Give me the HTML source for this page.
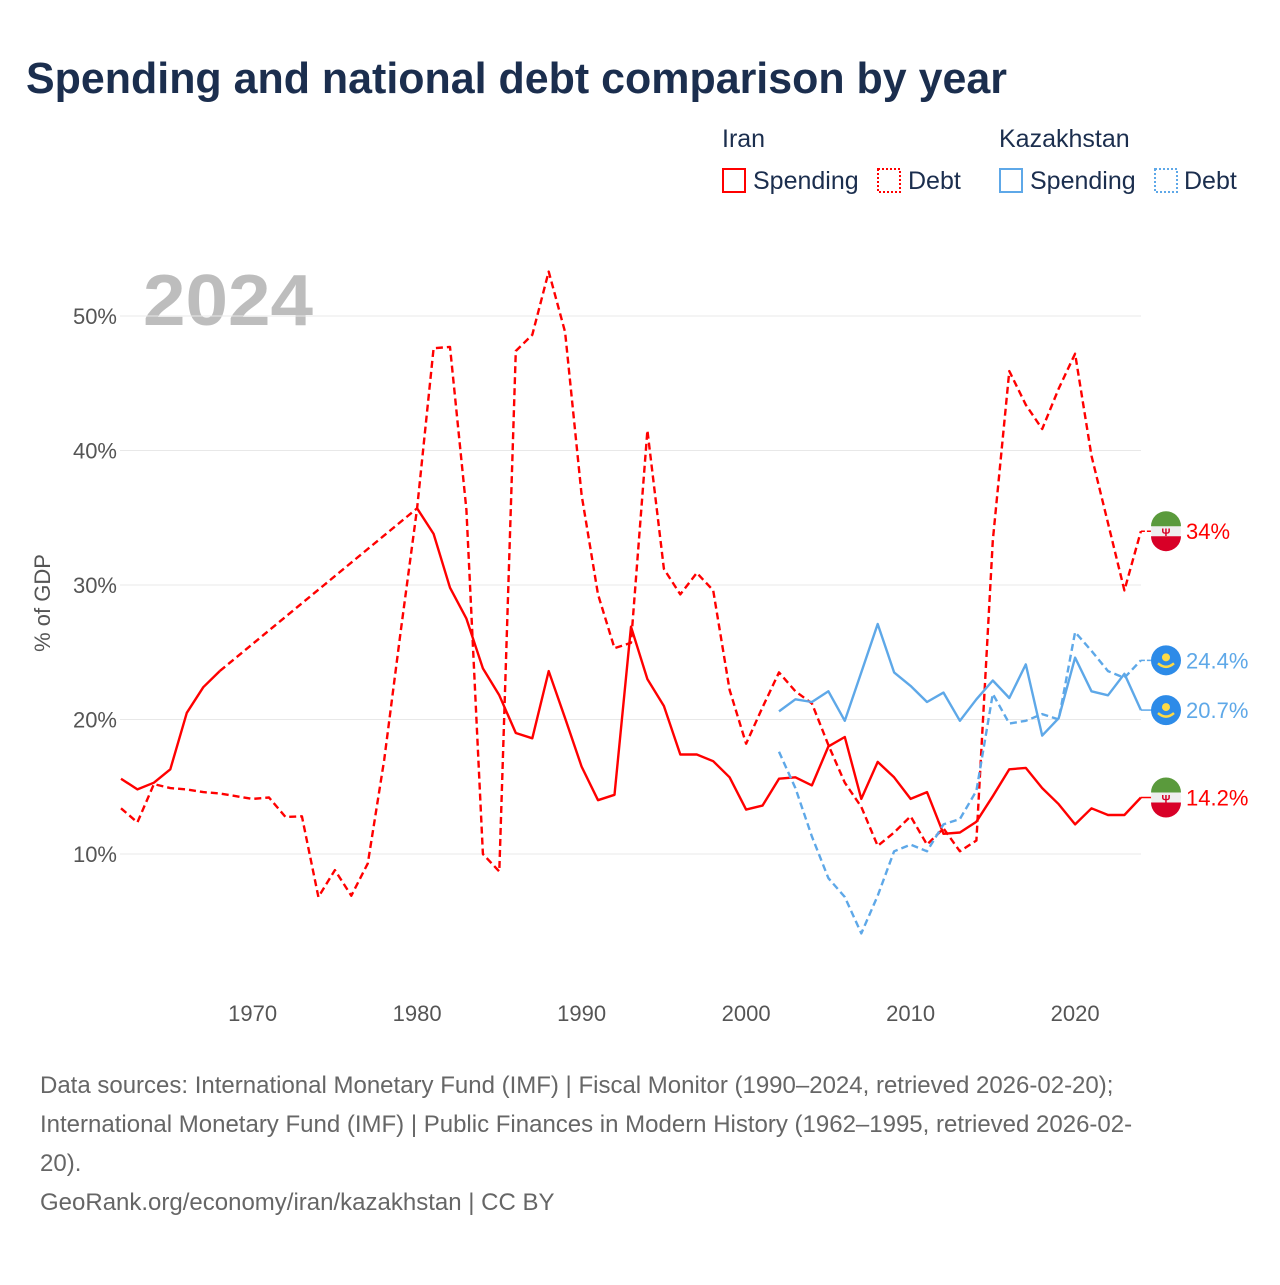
<!DOCTYPE html>
<html><head><meta charset="utf-8">
<style>
html,body{margin:0;padding:0;background:#fff;}
body{width:1280px;height:1280px;overflow:hidden;font-family:"Liberation Sans",sans-serif;}
</style></head>
<body>
<svg id="chart" width="1280" height="1280" viewBox="0 0 1280 1280" xmlns="http://www.w3.org/2000/svg">
<text x="26" y="93" font-size="44" font-weight="bold" fill="#1b2e4e" textLength="981" lengthAdjust="spacingAndGlyphs">Spending and national debt comparison by year</text>
<g font-size="25" fill="#1b2e4e">
<text x="722" y="147">Iran</text>
<text x="999" y="147">Kazakhstan</text>
<g><rect x="723" y="169" width="22" height="23" fill="none" stroke="#ff0000" stroke-width="2"/><text x="753" y="189">Spending</text></g>
<g><rect x="878" y="169" width="22" height="23" fill="none" stroke="#ff0000" stroke-width="2" stroke-dasharray="2,2"/><text x="908" y="189">Debt</text></g>
<g><rect x="1000" y="169" width="22" height="23" fill="none" stroke="#5ea8e8" stroke-width="2"/><text x="1030" y="189">Spending</text></g>
<g><rect x="1155" y="169" width="22" height="23" fill="none" stroke="#5ea8e8" stroke-width="2" stroke-dasharray="2,2"/><text x="1184" y="189">Debt</text></g>
</g>
<text x="143" y="325" font-size="72" font-weight="bold" fill="#bdbdbd" textLength="170" lengthAdjust="spacingAndGlyphs">2024</text>
<text transform="translate(50,603) rotate(-90)" text-anchor="middle" font-size="22" fill="#555">% of GDP</text>
<g id="grid"></g><g id="series"></g><g id="ends"></g>
<g font-size="24" fill="#666">
<text x="40" y="1093">Data sources: International Monetary Fund (IMF) | Fiscal Monitor (1990–2024, retrieved 2026-02-20);</text>
<text x="40" y="1132">International Monetary Fund (IMF) | Public Finances in Modern History (1962–1995, retrieved 2026-02-</text>
<text x="40" y="1171">20).</text>
<text x="40" y="1210">GeoRank.org/economy/iran/kazakhstan | CC BY</text>
</g>
</svg>
<script>
const yTicks=[10,20,30,40,50];
const xTicks=[1970,1980,1990,2000,2010,2020];
const iranYears=[];for(let y=1962;y<=2024;y++)iranYears.push(y);
const iranSpending=[15.6,14.8,15.3,16.3,20.5,22.4,23.6,null,null,null,null,null,null,null,null,null,null,null,35.7,33.8,29.8,27.5,23.8,21.8,19.0,18.6,23.6,20.1,16.5,14.0,14.4,26.9,23.0,21.0,17.4,17.4,16.9,15.7,13.3,13.6,15.6,15.7,15.1,18.0,18.7,14.1,16.85,15.7,14.1,14.6,11.5,11.6,12.4,14.3,16.3,16.4,14.9,13.7,12.2,13.4,12.9,12.9,14.2];
const iranDebt=[13.4,12.35,15.2,14.9,14.8,14.6,14.5,14.3,14.1,14.2,12.75,12.8,6.8,8.8,6.9,9.3,17.0,26.5,35.7,47.6,47.7,35.6,10.0,8.7,47.4,48.6,53.3,48.8,36.7,29.3,25.3,25.7,41.5,31.2,29.3,30.9,29.6,22.2,18.2,20.9,23.5,22.1,21.2,18.1,15.3,13.5,10.6,11.6,12.8,10.7,11.9,10.2,11.0,33.3,45.9,43.4,41.6,44.6,47.2,39.6,34.6,29.6,34.0];
const kazYears=[];for(let y=2002;y<=2024;y++)kazYears.push(y);
const kazSpending=[20.6,21.5,21.3,22.1,19.9,23.5,27.1,23.5,22.5,21.3,22.0,19.9,21.5,22.9,21.6,24.1,18.8,20.1,24.6,22.1,21.8,23.4,20.7];
const kazDebt=[17.6,14.9,11.3,8.2,6.8,4.1,6.9,10.2,10.7,10.2,12.2,12.6,14.7,21.9,19.7,19.9,20.4,20.0,26.5,25.1,23.6,23.1,24.4];
const NS='http://www.w3.org/2000/svg';
function xs(yr){return 121+(yr-1962)*16.45;}
function ys(v){return 854-(v-10)*13.45;}
function mk(t,a,p){const e=document.createElementNS(NS,t);for(const k in a)e.setAttribute(k,a[k]);p.appendChild(e);return e;}
const grid=document.getElementById('grid');
yTicks.forEach(v=>{
 const l=mk('line',{x1:120,x2:1141,y1:ys(v),y2:ys(v),stroke:'#e8e8e8','stroke-width':1},grid);
 
 
 const t=mk('text',{x:117,y:ys(v)+8,'text-anchor':'end','font-size':22,fill:'#555'},grid);
 t.textContent=v+'%';
 
 
});
xTicks.forEach(yr=>{
 const t=mk('text',{x:xs(yr),y:1021,'text-anchor':'middle','font-size':22,fill:'#555'},grid);
 t.textContent=yr;
 
 
});
const series=document.getElementById('series');
function draw(years,vals,color,dash,name){
 const g=mk('g',{},series);
 
 
 let d='',gap='',last=null,pen=false;
 years.forEach((yr,i)=>{const v=vals[i];
  if(v==null){pen=false;return;}
  const p=xs(yr).toFixed(1)+','+ys(v).toFixed(1);
  if(!pen&&last){gap+='M'+last+'L'+p;}
  d+=(pen?'L':'M')+p;pen=true;last=p;});
 mk('path',{d:d,fill:'none',stroke:color,'stroke-width':2.4,'stroke-dasharray':dash?'7,4':'none','stroke-linejoin':'round'},g);
 if(gap)mk('path',{d:gap,fill:'none',stroke:color,'stroke-width':2.4,'stroke-dasharray':'7,4'},g);
}
draw(iranYears,iranDebt,'#ff0000',true,'line-iran-debt');
draw(iranYears,iranSpending,'#ff0000',false,'line-iran-spending');
draw(kazYears,kazDebt,'#5ea8e8',true,'line-kazakhstan-debt');
draw(kazYears,kazSpending,'#5ea8e8',false,'line-kazakhstan-spending');
const ends=document.getElementById('ends');
function endLabel(v,color,country,name,dash){
 const y=ys(v),x0=xs(2024);
 const g=mk('g',{},ends);
 
 
 mk('line',{x1:x0,x2:1152,y1:y,y2:y,stroke:color,'stroke-width':1.5,'stroke-dasharray':dash?'4,2':'none'},g);
 if(country==='iran'){
  mk('circle',{cx:1166,cy:y,r:15,fill:'#eee'},g);
  mk('path',{d:`M1151,${y-5} A15,15 0 0 1 1181,${y-5} Z`,fill:'#5a9a3c'},g);
  mk('path',{d:`M1151,${y+5} A15,15 0 0 0 1181,${y+5} Z`,fill:'#d80027'},g);
  mk('text',{x:1166,y:y+5,'text-anchor':'middle','font-size':11,fill:'#d80027','font-weight':'bold'},g).textContent='Ψ';
 } else {
  mk('circle',{cx:1166,cy:y,r:15,fill:'#2d8be8'},g);
  mk('circle',{cx:1166,cy:y-3,r:4,fill:'#ffda44'},g);
  mk('path',{d:`M1158,${y+3} Q1166,${y+10} 1174,${y+3}`,fill:'none',stroke:'#ffda44','stroke-width':2.5},g);
 }
 const t=mk('text',{x:1186,y:y+8,'font-size':22,fill:color},g);
 t.textContent=(Math.round(v*10)/10)+'%';
}
endLabel(iranDebt[iranDebt.length-1],'#ff0000','iran','end-label-iran-debt',true);
endLabel(iranSpending[iranSpending.length-1],'#ff0000','iran','end-label-iran-spending',false);
endLabel(kazDebt[kazDebt.length-1],'#5ea8e8','kaz','end-label-kazakhstan-debt',true);
endLabel(kazSpending[kazSpending.length-1],'#5ea8e8','kaz','end-label-kazakhstan-spending',false);
</script>
</body></html>
